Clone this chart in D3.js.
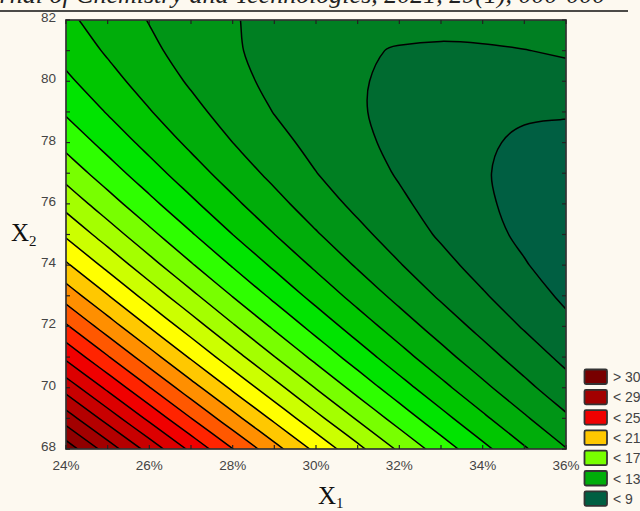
<!DOCTYPE html>
<html><head><meta charset="utf-8">
<script src="https://cdn.jsdelivr.net/npm/d3@7"></script>
<style>
html,body{margin:0;padding:0;background:#fdf9f0;}
svg{display:block;}
</style>
</head><body>
<svg id="chart" width="640" height="511"></svg>
<script>
// ---- data ----
const x1Values = [24,25,26,27,28,29,30,31,32,33,34,35,36];           // X1, %
const x2Values = [82,81,80,79,78,77,76,75,74,73,72,71,70,69,68];      // X2, rows top -> bottom
const zRow82 = [13.21,12.54,11.96,11.47,11.06,10.74,10.50,10.35,10.28,10.30,10.41,10.60,10.87];
const zRow81 = [13.64,12.88,12.20,11.61,11.11,10.69,10.36,10.11,9.94,9.87,9.88,9.97,10.15];
const zRow80 = [14.20,13.34,12.57,11.88,11.28,10.77,10.40,10.08,9.80,9.61,9.47,9.47,9.55];
const zRow79 = [14.88,13.93,13.06,12.28,11.58,10.97,10.51,10.09,9.72,9.44,9.24,9.09,9.08];
const zRow78 = [15.69,14.64,13.67,12.79,12.00,11.29,10.72,10.21,9.76,9.39,9.10,8.88,8.73];
const zRow77 = [16.62,15.47,14.41,13.43,12.54,11.74,11.02,10.44,9.91,9.45,9.07,8.74,8.50];
const zRow76 = [17.67,16.43,15.27,14.20,13.21,12.31,11.49,10.76,10.17,9.62,9.14,8.73,8.40];
const zRow75 = [18.85,17.51,16.26,15.09,14.00,13.01,12.09,11.27,10.53,9.87,9.30,8.82,8.42];
const zRow74 = [20.15,18.72,17.36,16.10,14.92,13.83,12.82,11.89,11.06,10.30,9.64,9.06,8.56];
const zRow73 = [21.58,20.05,18.60,17.24,15.96,14.77,13.66,12.64,11.71,10.86,10.10,9.42,8.83];
const zRow72 = [23.13,21.50,19.95,18.50,17.12,15.84,14.64,13.52,12.49,11.55,10.69,9.91,9.22];
const zRow71 = [24.80,23.08,21.44,19.88,18.41,17.03,15.73,14.52,13.39,12.35,11.40,10.53,9.74];
const zRow70 = [26.60,24.78,23.04,21.39,19.82,18.35,16.95,15.64,14.42,13.28,12.23,11.26,10.38];
const zRow69 = [28.52,26.60,24.77,23.02,21.36,19.79,18.29,16.89,15.57,14.34,13.19,12.13,11.15];
const zRow68 = [30.57,28.55,26.62,24.78,23.02,21.35,19.76,18.26,16.84,15.51,14.27,13.11,12.04];

const levels = [9,10,11,12,13,14,15,16,17,18,19,20,21,22,23,24,25,26,27,28,29,30];
// band colours: [<9, 9-10, 10-11, ..., 29-30, >30]
const bandColors = ["#005f42","#006b30","#007f22","#009516","#00ad0a","#00c600","#00e400",
  "#2eff00","#78ff00","#a4ff00","#ccff00","#ffff00","#ffc800","#ff8f00","#ff5800","#ff2400",
  "#f00000","#dc0000","#c80000","#b40000","#a20000","#900000","#780000"];

const xTicks = [24,26,28,30,32,34,36];
const yTicks = [68,70,72,74,76,78,80,82];
const legendLabels = ["> 30","< 29","< 25","< 21","< 17","< 13","< 9"];
const legendBounds = [30,29,25,21,17,13,9];
const headerText = "Journal of Chemistry and Technologies, 2021, 29(1), 000-000";

// ---- layout ----
const svg = d3.select("#chart");
const L = 66, R = 566, T = 20, B = 449;
const xs = d3.scaleLinear().domain([d3.min(x1Values), d3.max(x1Values)]).range([L, R]);
const ys = d3.scaleLinear().domain([d3.min(x2Values), d3.max(x2Values)]).range([B, T]);

svg.append("rect").attr("width",640).attr("height",511).attr("fill","#fdf9f0");

// header remnant (cut off at the top, as in the source page)
svg.append("text").attr("x",-38).attr("y",3)
  .attr("font-family","Liberation Serif, serif").attr("font-style","italic").attr("font-size",26)
  .attr("fill","#222").text(headerText);
svg.append("line").attr("x1",0).attr("x2",628).attr("y1",11).attr("y2",11)
  .attr("stroke","#111").attr("stroke-width",1.3);

const defs = svg.append("defs");
defs.append("clipPath").attr("id","plotclip").append("rect")
  .attr("x",L).attr("y",T).attr("width",R-L).attr("height",B-T);

const nx = x1Values.length, ny = x2Values.length;
const grid = [zRow82,zRow81,zRow80,zRow79,zRow78,zRow77,zRow76,zRow75,zRow74,zRow73,zRow72,zRow71,zRow70,zRow69,zRow68];
const values = grid.flat();
const dx1 = x1Values[1]-x1Values[0], dx2 = x2Values[1]-x2Values[0];

const contours = d3.contours().size([nx, ny]).thresholds(levels).smooth(true)(values);

// grid coords (sample i at i+0.5) -> pixels
function toPx(pt){
  return [xs(x1Values[0] + (pt[0]-0.5)*dx1), ys(x2Values[0] + (pt[1]-0.5)*dx2)];
}
const eps = 1e-6;
function isIn(pt){ return pt[0] >= 0.5-eps && pt[0] <= nx-0.5+eps && pt[1] >= 0.5-eps && pt[1] <= ny-0.5+eps; }
function onFrame(pt){ return Math.abs(pt[0]-0.5)<eps || Math.abs(pt[0]-(nx-0.5))<eps ||
                             Math.abs(pt[1]-0.5)<eps || Math.abs(pt[1]-(ny-0.5))<eps; }
function f2(v){ return v.toFixed(2); }
// smooth rendering of marching-squares rings (tangent-continuous Bezier through the iso points)
function ringToPath(ring){
  const pts = ring.slice();
  if (pts.length > 1) {
    const a = pts[0], b = pts[pts.length-1];
    if (Math.abs(a[0]-b[0])<eps && Math.abs(a[1]-b[1])<eps) pts.pop();
  }
  const n = pts.length;
  if (n < 3) return "";
  const ins = pts.map(isIn), fr = pts.map(onFrame), P = pts.map(toPx);
  const dir = P.map((p,i) => {
    const ia = ins[(i-1+n)%n], ib = ins[(i+1)%n];
    const a = P[(i-1+n)%n], b = P[(i+1)%n];
    let vx, vy;
    if (fr[i]) {
      if (ib && !ia) { vx=b[0]-p[0]; vy=b[1]-p[1]; }
      else if (ia && !ib) { vx=p[0]-a[0]; vy=p[1]-a[1]; }
      else { vx=b[0]-a[0]; vy=b[1]-a[1]; }
    } else if (ia && ib) { vx=b[0]-a[0]; vy=b[1]-a[1]; }
    else if (ib) { vx=b[0]-p[0]; vy=b[1]-p[1]; }
    else { vx=p[0]-a[0]; vy=p[1]-a[1]; }
    const l = Math.hypot(vx,vy) || 1;
    return [vx/l, vy/l];
  });
  let s = "M" + f2(P[0][0]) + "," + f2(P[0][1]);
  for (let i = 0; i < n; i++) {
    const j = (i+1)%n;
    const p = P[i], q = P[j];
    if (ins[i] && ins[j] && !(fr[i] && fr[j])) {
      const d = Math.hypot(q[0]-p[0], q[1]-p[1]) / 3;
      s += "C" + f2(p[0]+dir[i][0]*d) + "," + f2(p[1]+dir[i][1]*d) + " " +
                 f2(q[0]-dir[j][0]*d) + "," + f2(q[1]-dir[j][1]*d) + " " +
                 f2(q[0]) + "," + f2(q[1]);
    } else {
      s += "L" + f2(q[0]) + "," + f2(q[1]);
    }
  }
  return s + "Z";
}
function contourPath(c){
  return c.coordinates.map(poly => poly.map(ringToPath).join("")).join("");
}

const plot = svg.append("g").attr("clip-path","url(#plotclip)");
plot.append("rect").attr("x",L).attr("y",T).attr("width",R-L).attr("height",B-T)
  .attr("fill", bandColors[0]);
plot.selectAll("path.band").data(contours).join("path")
  .attr("class","band")
  .attr("d", contourPath)
  .attr("fill", (d,i) => bandColors[i+1])
  .attr("stroke", (d,i) => bandColors[i+1]).attr("stroke-width",0.5);
plot.selectAll("path.iso").data(contours).join("path")
  .attr("class","iso")
  .attr("d", contourPath)
  .attr("fill","none")
  .attr("stroke","#000")
  .attr("stroke-width",1.5)
  .attr("stroke-linejoin","round");

// frame
svg.append("rect").attr("x",L).attr("y",T).attr("width",R-L).attr("height",B-T)
  .attr("fill","none").attr("stroke","#333").attr("stroke-width",1.7);

// inward minor ticks every unit
const tickG = svg.append("g").attr("stroke","#222").attr("stroke-width",1.2);
x1Values.forEach(v => {
  tickG.append("line").attr("x1",xs(v)).attr("x2",xs(v)).attr("y1",B).attr("y2",B-4);
  tickG.append("line").attr("x1",xs(v)).attr("x2",xs(v)).attr("y1",T).attr("y2",T+4);
});
x2Values.forEach(v => {
  tickG.append("line").attr("x1",L).attr("x2",L+4).attr("y1",ys(v)).attr("y2",ys(v));
  tickG.append("line").attr("x1",R).attr("x2",R-4).attr("y1",ys(v)).attr("y2",ys(v));
});

// tick labels
const lblFont = "Liberation Sans, Arial, sans-serif";
svg.append("g").selectAll("text").data(xTicks).join("text")
  .attr("x", d => xs(d)).attr("y", B+21)
  .attr("text-anchor","middle").attr("font-family",lblFont).attr("font-size",13.5)
  .attr("fill","#444").text(d => d + "%");
svg.append("g").selectAll("text").data(yTicks).join("text")
  .attr("x", L-10).attr("y", d => ys(d)+2)
  .attr("text-anchor","end").attr("font-family",lblFont).attr("font-size",13.5)
  .attr("fill","#444").text(d => d);

// axis titles
const t1 = svg.append("text").attr("x",318).attr("y",504)
  .attr("font-family","Liberation Serif, Times New Roman, serif").attr("font-size",25).attr("fill","#111");
t1.append("tspan").text("X");
t1.append("tspan").attr("font-size",15).attr("dy",4).text("1");
const t2 = svg.append("text").attr("x",11).attr("y",241)
  .attr("font-family","Liberation Serif, Times New Roman, serif").attr("font-size",25).attr("fill","#111");
t2.append("tspan").text("X");
t2.append("tspan").attr("font-size",15).attr("dy",5).text("2");

// legend
const lg = svg.append("g");
legendLabels.forEach((lab, i) => {
  const b = legendBounds[i];
  const idx = lab.startsWith(">") ? levels.length : levels.indexOf(b);
  const y = 369.5 + i * 20.3;
  lg.append("rect").attr("x",584.5).attr("y",y).attr("width",22.5).attr("height",14.5)
    .attr("rx",1.5).attr("fill",bandColors[idx]).attr("stroke","#333").attr("stroke-width",1.8);
  lg.append("text").attr("x",613).attr("y",y+12.5)
    .attr("font-family",lblFont).attr("font-size",14).attr("fill","#444").text(lab);
});
</script>
</body></html>
